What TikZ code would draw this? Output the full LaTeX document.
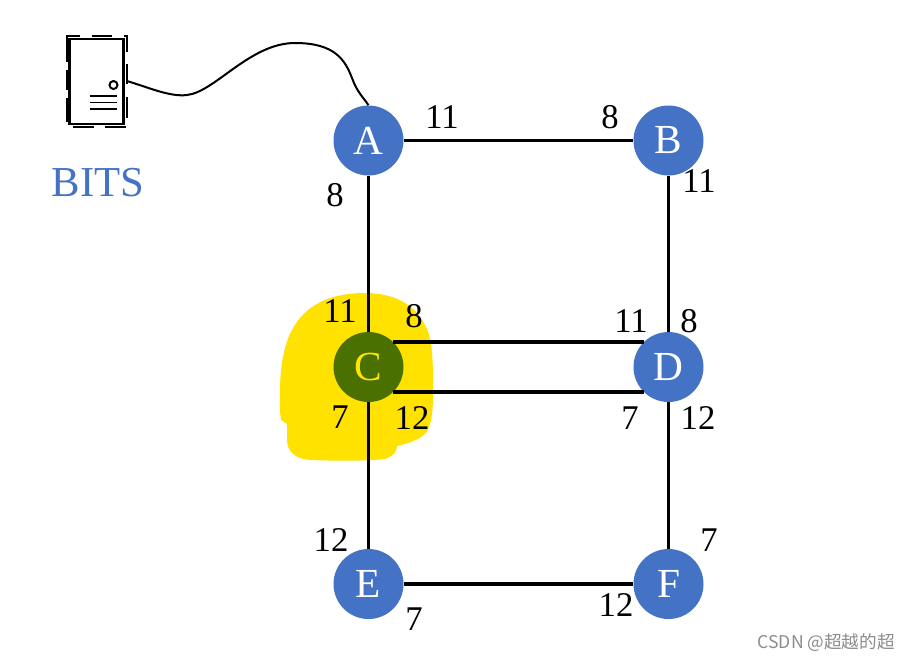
\documentclass[tikz,border=0pt]{standalone}
\usepackage{fontspec}
\setmainfont{Liberation Serif}
\newfontfamily\wmfont{Noto Sans CJK SC}
\begin{document}
\begin{tikzpicture}[x=0.75pt,y=-0.75pt,
  router/.style={circle,fill=routerblue,draw=none,minimum size=52.5pt,inner sep=0pt,text=white,font=\fontsize{31}{31}\selectfont},
  link/.style={line width=2.4pt,black},
  num/.style={font=\fontsize{26}{26}\selectfont,inner sep=0pt,text=black},
  dashside/.style={line width=1.7pt,black}]
\definecolor{routerblue}{HTML}{4472C4}
\definecolor{hilite}{HTML}{FFE200}
\definecolor{cgreen}{HTML}{4A7000}
\definecolor{cyellow}{HTML}{FFE600}
\useasboundingbox (0,0) rectangle (909,661);
% highlight
\fill[hilite] (280,412) .. controls (279,380) and (281,350) .. (292,330)
  .. controls (305,305) and (330,293) .. (365,293)
  .. controls (395,293) and (415,305) .. (425,325)
  .. controls (433,340) and (433,360) .. (433,395)
  .. controls (433,415) and (431,425) .. (426,433)
  .. controls (418,441) and (405,444) .. (397,446)
  .. controls (397,452) and (393,456) .. (385,459)
  .. controls (370,461) and (340,461) .. (310,460)
  .. controls (296,459) and (287,452) .. (287,440)
  -- (287,424) -- (281,420) -- cycle;
% routers
\node[router] (A) at (368.5,140.5) {A};
\node[router] (B) at (668.5,140.5) {B};
\node[router,fill=cgreen,text=cyellow] (C) at (368.5,367) {C};
\node[router] (D) at (668.5,367) {D};
\node[router] (E) at (368.5,584) {E};
\node[router] (F) at (668.5,584) {F};
% links
\draw[link] (A) -- (B);
\draw[link] (A) -- (C);
\draw[link] (B) -- (D);
\draw[link] (C.45) -- (D.135);
\draw[link] (C.-45) -- (D.-135);
\draw[link] (C) -- (E);
\draw[link] (D) -- (F);
\draw[link] (E) -- (F);
% server
\node[draw=black,line width=1.6pt,minimum width=40.5pt,minimum height=64pt,inner sep=0pt] (srv) at (96.5,81.5) {};
\draw[dashside] (66,36) -- (80,36) (92,36) -- (112,36) (124,36) -- (128,36);
\draw[dashside] (67,37) -- (67,62) (67,70) -- (67,90) (67,98) -- (67,122);
\draw[dashside] (127,36) -- (127,52) (127,64) -- (127,84) (127,97) -- (127,118);
\draw[dashside] (73,127) -- (94,127) (105,127) -- (126,127);
\node[draw=black,circle,line width=1.5pt,minimum size=6pt,inner sep=0pt] (knob) at (113.5,85) {};
\draw[line width=1.2pt] (90,96) -- (117,96) (90,102.5) -- (117,102.5) (90,109) -- (117,109);
\coordinate (srvport) at (127,81);
\draw[line width=1.5pt,black] (srvport) .. controls (150,88) and (170,97) .. (187,95)
  .. controls (215,92) and (250,43) .. (295,43)
  .. controls (335,43) and (345,60) .. (352,78)
  .. controls (357,92) and (363,97) .. (A.north);
\node[font=\fontsize{32}{32}\selectfont,text=routerblue,inner sep=0pt] (bits) at (98,183) {BITS};
% numbers
\node[num] (n1) at (442,117) {11};
\node[num] (n2) at (610,117) {8};
\node[num] (n3) at (699,181) {11};
\node[num] (n4) at (335,195) {8};
\node[num] (n5) at (340,311) {11};
\node[num] (n6) at (414,316) {8};
\node[num] (n7) at (631,321) {11};
\node[num] (n8) at (689,321) {8};
\node[num] (n9) at (340,417) {7};
\node[num] (n10) at (412,418) {12};
\node[num] (n11) at (630,418) {7};
\node[num] (n12) at (698,418) {12};
\node[num] (n13) at (331,540) {12};
\node[num] (n14) at (709,540) {7};
\node[num] (n15) at (414,619) {7};
\node[num] (n16) at (616,605) {12};
\node[font=\wmfont\fontsize{13.2}{13.2}\selectfont,text=black!45,inner sep=0pt,anchor=east] (wm) at (895,643) {CSDN @超越的超};
\end{tikzpicture}
\end{document}
